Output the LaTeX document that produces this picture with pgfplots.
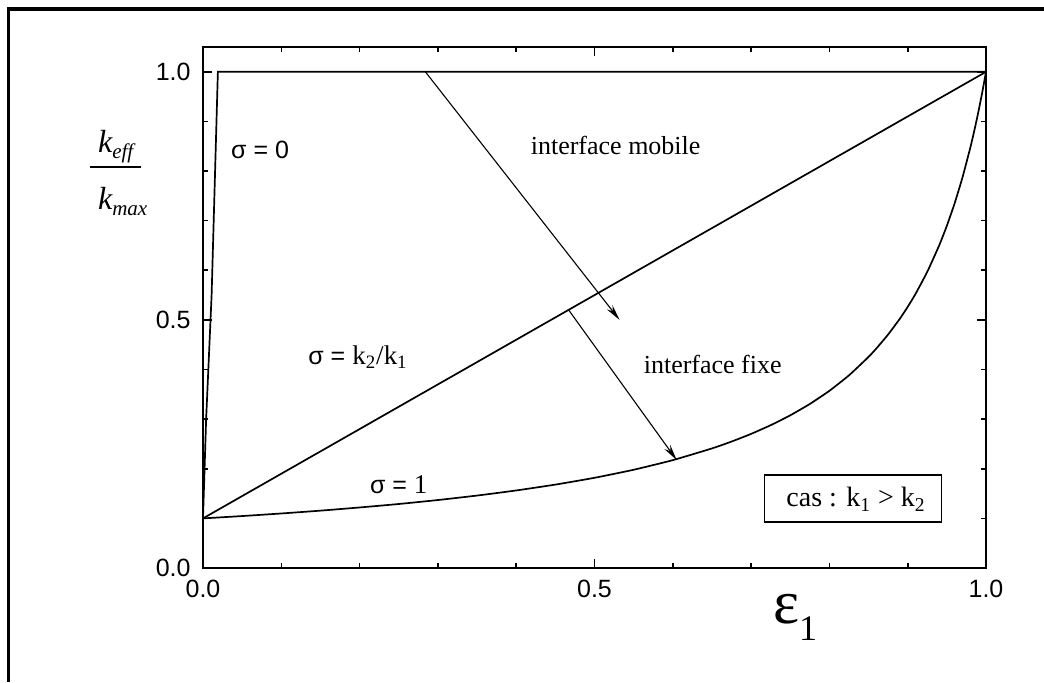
\documentclass[border=0pt]{standalone}
\usepackage{pgfplots}
\pgfplotsset{compat=1.18}
\usepackage{fontspec}
\setmainfont{Liberation Serif}
\newfontfamily\hel{Liberation Sans}
\usetikzlibrary{arrows.meta}

% sigma = 1 : harmonic mean of the two conductivities, k2/k1 = 0.1
\pgfplotstableread{
x      y
0.000  0.1000
0.050  0.1047
0.100  0.1099
0.150  0.1156
0.200  0.1220
0.250  0.1290
0.300  0.1370
0.350  0.1460
0.400  0.1563
0.450  0.1681
0.500  0.1818
0.550  0.1980
0.600  0.2174
0.650  0.2410
0.675  0.2548
0.700  0.2703
0.725  0.2878
0.750  0.3077
0.775  0.3306
0.800  0.3571
0.825  0.3883
0.850  0.4255
0.860  0.4425
0.875  0.4706
0.890  0.5025
0.900  0.5263
0.910  0.5525
0.925  0.5970
0.940  0.6494
0.950  0.6897
0.960  0.7353
0.970  0.7874
0.980  0.8475
0.985  0.8811
0.990  0.9174
0.995  0.9569
1.000  1.0000
}\sigmaone

\begin{document}
\begin{tikzpicture}
\useasboundingbox (0,0) rectangle (522pt,341pt);
% frame
\draw[line width=1.8pt] (4.3pt,0pt) -- (4.3pt,336.5pt) -- (522pt,336.5pt);

\begin{axis}[
  at={(101.5pt,57pt)}, anchor=south west,
  scale only axis, width=391.5pt, height=260.5pt,
  xmin=0, xmax=1, ymin=0, ymax=1.05,
  xtick={0,0.5,1}, ytick={0,0.5,1},
  xticklabels={0.0,0.5,1.0}, yticklabels={0.0,0.5,1.0},
  minor xtick={0.1,0.2,0.3,0.4,0.6,0.7,0.8,0.9},
  minor ytick={0.1,0.2,0.3,0.4,0.6,0.7,0.8,0.9},
  tick align=inside,
  major tick length=4.5pt, minor tick length=2.5pt,
  every tick/.style={black, line width=0.8pt},
  axis line style={line width=1.2pt},
  ticklabel style={font=\hel\fontsize{12.5}{13}\selectfont, inner sep=0pt},
  xticklabel style={yshift=-6pt},
  yticklabel style={xshift=-6pt},
  clip=false,
]
% sigma = 0
\addplot[line width=0.85pt] coordinates {(0,0.1) (0.004,0.3) (0.011,0.55) (0.019,1.0) (1,1)};
% sigma = k2/k1
\addplot[line width=0.85pt] coordinates {(0,0.1) (1,1)};
% sigma = 1
\addplot[line width=0.85pt, smooth, tension=0.3] table {\sigmaone};

% arrows
\addplot[line width=0.55pt, -{Stealth[length=8pt,width=3.5pt]}] coordinates {(0.284,1.0) (0.532,0.5)};
\addplot[line width=0.55pt, -{Stealth[length=8pt,width=3.5pt]}] coordinates {(0.467,0.52) (0.605,0.2175)};

% labels
\node[anchor=base, font=\hel\fontsize{12.5}{13}\selectfont] at (axis cs:0.073,0.826) {σ = 0};
\node[anchor=base, font=\fontsize{13}{15}\selectfont] at (axis cs:0.527,0.834) {interface mobile};
\node[anchor=base] at (axis cs:0.198,0.41) {{\hel\fontsize{12.5}{13}\selectfont σ = }{\fontsize{13.5}{14}\selectfont k\textsubscript{2}/k\textsubscript{1}}};
\node[anchor=base, font=\fontsize{13}{15}\selectfont] at (axis cs:0.651,0.392) {interface fixe};
\node[anchor=base] at (axis cs:0.25,0.151) {{\hel\fontsize{12.5}{13}\selectfont σ = }{\fontsize{13.5}{14}\selectfont 1}};

% case box
\node[draw, line width=0.8pt, minimum width=88.5pt, minimum height=23.5pt, inner sep=0pt] at (axis cs:0.830,0.1404) {};
\node[anchor=base, font=\fontsize{14}{15}\selectfont] at (axis cs:0.834,0.123) {cas : k\textsubscript{1} > k\textsubscript{2}};

% y label: k_eff / k_max
\node[anchor=base west, font=\fontsize{16}{16}\selectfont\itshape] at (axis cs:-0.143,0.838) {k\raisebox{-3pt}{\fontsize{10.5}{10}\selectfont eff}};
\draw[line width=0.8pt] (axis cs:-0.1445,0.808) -- (axis cs:-0.079,0.808);
\node[anchor=base west, font=\fontsize{16}{16}\selectfont\itshape] at (axis cs:-0.143,0.723) {k\raisebox{-3pt}{\fontsize{10.5}{10}\selectfont max}};

% x label: epsilon_1
\node[anchor=base west] at (axis cs:0.719,-0.111) {\fontsize{31}{31}\selectfont ε\raisebox{-8.5pt}{\fontsize{18}{18}\selectfont 1}};
\end{axis}
\end{tikzpicture}
\end{document}
